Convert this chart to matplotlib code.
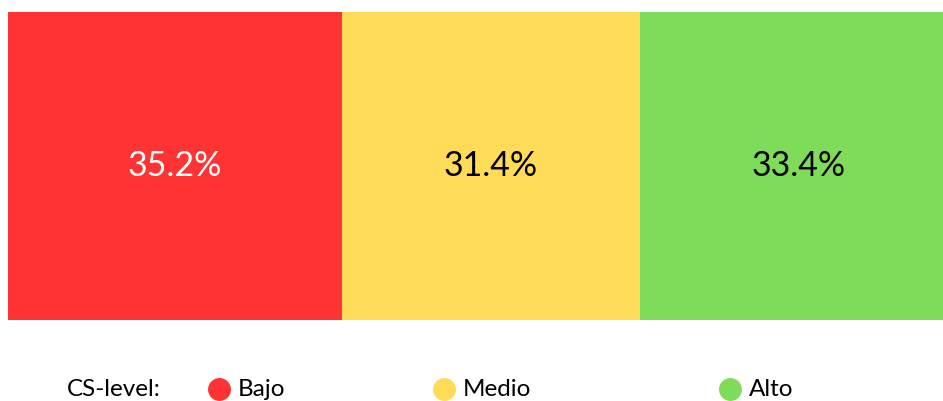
import matplotlib
matplotlib.use("Agg")
import matplotlib.pyplot as plt
from matplotlib.lines import Line2D

# ── data ─────────────────────────────────────────────────────────────────────
levels = ["Bajo", "Medio", "Alto"]
shares = [35.2, 31.4, 33.4]
colors = ["#FF3333", "#FFDB58", "#7FDB5A"]
label_colors = ["white", "black", "black"]
legend_title = "CS-level:"

plt.rcParams["font.family"] = ["Lato", "DejaVu Sans"]

W, H = 943, 401
fig = plt.figure(figsize=(W / 100, H / 100), dpi=100)
fig.patch.set_facecolor("white")

# bar runs slightly past the right edge of the canvas, as in the original
ax = fig.add_axes([8 / W, 1 - 320 / H, 949 / W, 308.5 / H])
left = 0.0
for lvl, val, col, tcol in zip(levels, shares, colors, label_colors):
    ax.barh(0, val, left=left, height=1.0, color=col, edgecolor="none")
    ax.text(left + val / 2, 0, f"{val:.1f}%", ha="center", va="center",
            fontsize=24.5, color=tcol)
    left += val
ax.set_xlim(0, sum(shares))
ax.set_ylim(-0.5, 0.5)
ax.axis("off")

# ── legend ───────────────────────────────────────────────────────────────────
y_leg = 1 - 389 / H
fig.text(67 / W, y_leg, legend_title, ha="left", va="center", fontsize=17.5)
marker_x = [219, 444, 730]
for lvl, col, mx in zip(levels, colors, marker_x):
    fig.add_artist(Line2D([mx / W], [y_leg], marker="o", markersize=16.5,
                          color=col, markeredgecolor="none",
                          transform=fig.transFigure))
    fig.text((mx + 19) / W, y_leg, lvl, ha="left", va="center", fontsize=17.5)

fig.savefig("out.png", dpi=100)
